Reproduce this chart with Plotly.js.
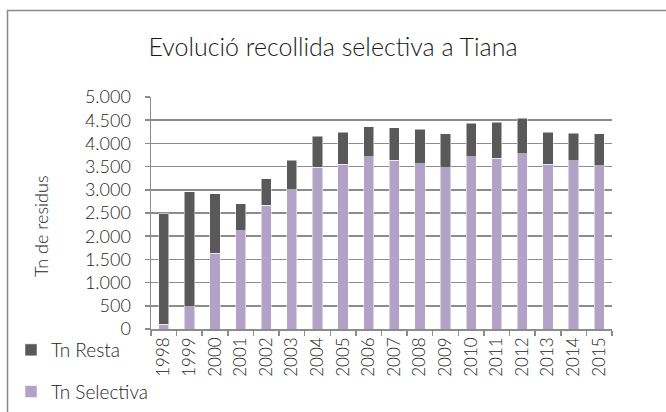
<!DOCTYPE html>
<html>
<head>
<meta charset="utf-8">
<script src="https://cdn.plot.ly/plotly-3.0.1.min.js"></script>
<style>
html,body{margin:0;padding:0;background:#fff;}
#chart{width:666px;height:412px;}
</style>
</head>
<body>
<div id="chart"></div>
<script>
var years = ['1998','1999','2000','2001','2002','2003','2004','2005','2006','2007','2008','2009','2010','2011','2012','2013','2014','2015'];
var selectiva = [100, 480, 1630, 2120, 2670, 3000, 3485, 3550, 3715, 3640, 3565, 3475, 3715, 3680, 3780, 3550, 3630, 3520];
var resta = [2380, 2480, 1280, 575, 565, 635, 665, 690, 640, 700, 740, 730, 715, 775, 760, 695, 585, 690];
var yTicks = [0, 500, 1000, 1500, 2000, 2500, 3000, 3500, 4000, 4500, 5000];

var FONT = 'Lato, "Open Sans", sans-serif';
var L = 151, R = 54, T = 97, B = 83, W = 666, H = 412;
var pw = W - L - R, ph = H - T - B;
function px2x(p){ return (p - L) / pw; }
function py2y(p){ return (H - B - p) / ph; }

var traces = [
  {type:'bar', name:'Tn Selectiva', x:years, y:selectiva, legendgroup:'b', legendrank:2,
   marker:{color:'#B3A2C7', line:{color:'#ffffff', width:0.5}}},
  {type:'bar', name:'Tn Resta', x:years, y:resta, legendgroup:'a', legendrank:1,
   marker:{color:'#595959', line:{color:'#ffffff', width:0.5}}}
];

var layout = {
  width:W, height:H,
  margin:{l:L, r:R, t:T, b:B, pad:0, autoexpand:false},
  paper_bgcolor:'#ffffff', plot_bgcolor:'#ffffff',
  barmode:'stack', bargap:0.6,
  separators:',.',
  font:{family:FONT, color:'#262626', size:15, weight:300},
  title:{text:'Evolució recollida selectiva a Tiana', font:{family:FONT, size:25, color:'#1a1a1a', weight:300},
         x:333/W, xref:'container', xanchor:'center', y:(H-47)/H, yref:'container', yanchor:'middle'},
  xaxis:{type:'category', automargin:false, tickangle:-90, tickson:'boundaries', ticks:'outside', ticklen:5, tickcolor:'#8c8c8c', tickwidth:1.5,
         showline:true, linecolor:'#8c8c8c', linewidth:1.5, showgrid:false, tickfont:{family:FONT, size:17, color:'#262626', weight:300}},
  yaxis:{range:[0,5000], automargin:false, tickvals:yTicks, tickformat:',d', ticks:'outside', ticklen:5, tickcolor:'#8c8c8c', tickwidth:1.5,
         showline:true, linecolor:'#8c8c8c', linewidth:1.5, showgrid:true, gridcolor:'#8c8c8c', gridwidth:1.5,
         zeroline:false, ticklabelstandoff:10, tickfont:{family:FONT, size:18, color:'#262626', weight:300}},
  showlegend:true,
  legend:{xref:'container', yref:'container', x:11/W, y:(H-331)/H, xanchor:'left', yanchor:'top', traceorder:'grouped', tracegroupgap:14,
          font:{family:FONT, size:19, color:'#262626', weight:300}, bgcolor:'rgba(0,0,0,0)'},
  annotations:[
    {text:'Tn de residus', xref:'paper', yref:'paper', x:px2x(41), y:py2y(226), textangle:-90, showarrow:false,
     xanchor:'center', yanchor:'middle', font:{family:FONT, size:18, color:'#262626', weight:300}}
  ],
  shapes:[
    {type:'rect', xref:'paper', yref:'paper', x0:px2x(7.5), x1:px2x(700), y0:py2y(440), y1:py2y(10.5),
     line:{color:'#8a8a8a', width:1.5}, fillcolor:'rgba(0,0,0,0)', layer:'below'}
  ]
};

Plotly.newPlot('chart', traces, layout, {displayModeBar:false, staticPlot:true});
</script>
</body>
</html>
